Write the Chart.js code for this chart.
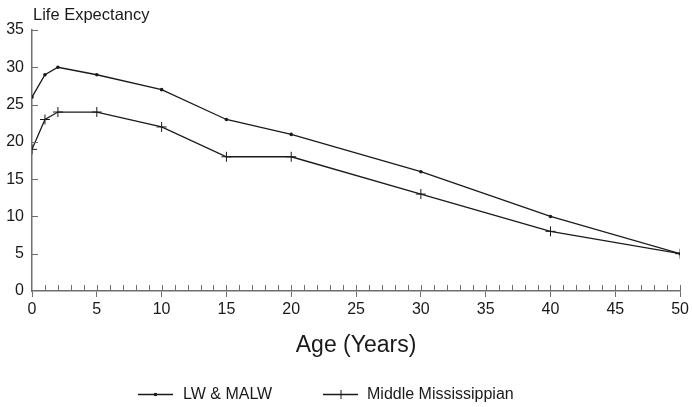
<!DOCTYPE html>
<html>
<head>
<meta charset="utf-8">
<script src="https://cdn.jsdelivr.net/npm/chart.js@4.4.0/dist/chart.umd.min.js"></script>
<style>
  html, body { margin: 0; padding: 0; background: #fff; }
  #wrap { width: 692px; height: 407px; }
</style>
</head>
<body>
<div id="wrap"><canvas id="c" width="692" height="407"></canvas></div>
<script>
// data
const ages = [0, 1, 2, 5, 10, 15, 20, 30, 40, 50];
const lwMalw = [26, 29, 30, 29, 27, 23, 21, 16, 10, 5];
const middleMiss = [19, 23, 24, 24, 22, 18, 18, 13, 8, 5];
const seriesNames = ['LW & MALW', 'Middle Mississippian'];
const yTicks = [0, 5, 10, 15, 20, 25, 30, 35];

const FONT = '"Liberation Sans", Arial, sans-serif';
const INK = '#1a1a1a';
const AXIS = '#6e6e6e';

// little ticks inside the plot + title + legend
const extras = {
  id: 'extras',
  afterDraw(chart) {
    const ctx = chart.ctx;
    const x = chart.scales.x, y = chart.scales.y;
    const y0 = y.getPixelForValue(0);
    const x0 = x.getPixelForValue(0);
    ctx.save();
    ctx.strokeStyle = AXIS;
    ctx.lineWidth = 1;
    ctx.beginPath();
    for (let a = 1; a <= 50; a++) {
      const px = Math.round(x.getPixelForValue(a)) + 0.5;
      ctx.moveTo(px, y0);
      ctx.lineTo(px, y0 - 6);
    }
    yTicks.forEach(v => {
      if (v === 0) return;
      const py = Math.round(y.getPixelForValue(v)) + 0.5;
      ctx.moveTo(x0, py);
      ctx.lineTo(x0 + 6, py);
    });
    ctx.stroke();

    ctx.fillStyle = INK;
    ctx.font = '16.5px ' + FONT;
    ctx.textBaseline = 'alphabetic';
    ctx.textAlign = 'left';
    ctx.fillText('Life Expectancy', 33, 20);

    // legend
    const ly = 394;
    const items = [
      { x1: 138, x2: 173, tx: 183, style: 'dot' },
      { x1: 323, x2: 358, tx: 367, style: 'cross' }
    ];
    ctx.font = '16px ' + FONT;
    ctx.textBaseline = 'middle';
    items.forEach((it, i) => {
      ctx.strokeStyle = INK;
      ctx.lineWidth = 1.3;
      ctx.beginPath();
      ctx.moveTo(it.x1, ly + 0.5);
      ctx.lineTo(it.x2, ly + 0.5);
      ctx.stroke();
      const mx = (it.x1 + it.x2) / 2;
      if (it.style === 'dot') {
        ctx.fillStyle = INK;
        ctx.beginPath();
        ctx.arc(mx, ly + 0.5, 1.8, 0, Math.PI * 2);
        ctx.fill();
      } else {
        ctx.lineWidth = 1;
        ctx.beginPath();
        ctx.moveTo(mx + 0.5, ly - 4);
        ctx.lineTo(mx + 0.5, ly + 5);
        ctx.stroke();
      }
      ctx.fillStyle = INK;
      ctx.fillText(seriesNames[i], it.tx, ly + 1);
    });
    ctx.restore();
  }
};

new Chart(document.getElementById('c'), {
  type: 'line',
  data: {
    datasets: [
      {
        label: seriesNames[0],
        data: ages.map((a, i) => ({ x: a, y: lwMalw[i] })),
        borderColor: INK,
        backgroundColor: INK,
        borderWidth: 1.3,
        pointStyle: 'circle',
        pointRadius: 1.8,
        pointBorderWidth: 0,
        tension: 0
      },
      {
        label: seriesNames[1],
        data: ages.map((a, i) => ({ x: a, y: middleMiss[i] })),
        borderColor: INK,
        backgroundColor: INK,
        borderWidth: 1.3,
        pointStyle: 'cross',
        pointRadius: 5,
        pointBorderWidth: 1,
        tension: 0
      }
    ]
  },
  options: {
    responsive: false,
    animation: false,
    layout: { padding: { top: 30, right: 10, left: 0, bottom: 48 } },
    plugins: { legend: { display: false }, tooltip: { enabled: false } },
    scales: {
      x: {
        type: 'linear',
        min: 0, max: 50,
        afterFit: s => { s.height = 68; },
        afterBuildTicks: s => { s.ticks = Array.from({ length: 51 }, (_, i) => ({ value: i })); },
        ticks: {
          autoSkip: false,
          maxRotation: 0,
          padding: 3,
          color: INK,
          font: { family: FONT, size: 16 },
          callback: v => (v % 5 === 0 ? String(v) : '')
        },
        grid: {
          drawOnChartArea: false,
          tickLength: 6,
          color: c => (c.tick && c.tick.value % 5 === 0 ? AXIS : 'rgba(0,0,0,0)')
        },
        border: { color: AXIS, width: 1.5 },
        title: {
          display: true,
          text: 'Age (Years)',
          color: INK,
          font: { family: FONT, size: 23 },
          padding: { top: 0, bottom: 0 }
        }
      },
      y: {
        min: 0, max: 35,
        afterFit: s => { s.width = 32; },
        afterBuildTicks: s => { s.ticks = yTicks.map(v => ({ value: v })); },
        ticks: {
          padding: 8,
          color: INK,
          font: { family: FONT, size: 16 }
        },
        grid: { drawOnChartArea: false, drawTicks: false },
        border: { color: AXIS, width: 1.5 }
      }
    }
  },
  plugins: [extras]
});
</script>
</body>
</html>
